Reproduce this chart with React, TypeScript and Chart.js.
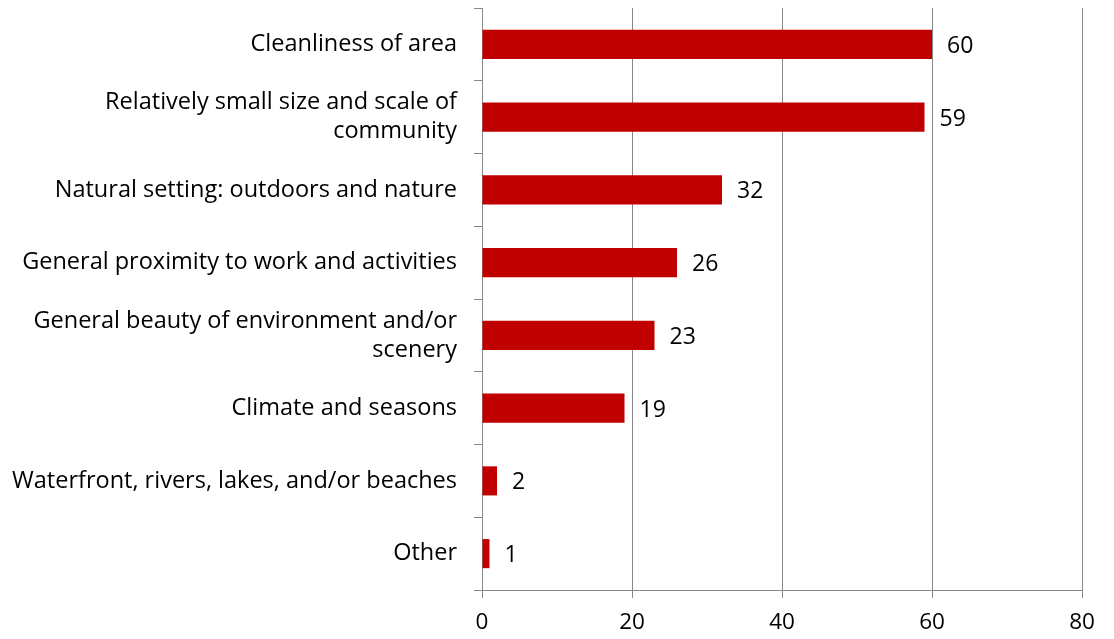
import React, { useEffect, useRef } from "react";
import { Chart, registerables } from "chart.js";

Chart.register(...registerables);

const categories: (string | string[])[] = [
  "Cleanliness of area",
  ["Relatively small size and scale of", "community"],
  "Natural setting: outdoors and nature",
  "General proximity to work and activities",
  ["General beauty of environment and/or", "scenery"],
  "Climate and seasons",
  "Waterfront, rivers, lakes, and/or beaches",
  "Other",
];
const values = [60, 59, 32, 26, 23, 19, 2, 1];
const xTicks = [0, 20, 40, 60, 80];

const FONT = "'Open Sans', sans-serif";
const GRID = "#868686";
const BAR = "#C00000";

const valueLabels = {
  id: "valueLabels",
  afterDatasetsDraw(chart: any) {
    const ctx = chart.ctx;
    const meta = chart.getDatasetMeta(0);
    ctx.save();
    ctx.font = `23px ${FONT}`;
    ctx.fillStyle = "#000";
    ctx.textAlign = "left";
    ctx.textBaseline = "middle";
    meta.data.forEach((bar: any, i: number) => {
      ctx.fillText(String(values[i]), bar.x + 15, bar.y + 2);
    });
    ctx.restore();
  },
};

export default function App() {
  const ref = useRef<HTMLCanvasElement | null>(null);
  useEffect(() => {
    document.body.style.margin = "0";
    const chart = new Chart(ref.current!, {
      type: "bar",
      data: {
        labels: categories,
        datasets: [
          {
            data: values,
            backgroundColor: BAR,
            barPercentage: 0.4,
            categoryPercentage: 1,
          },
        ],
      },
      options: {
        indexAxis: "y",
        animation: false,
        responsive: false,
        maintainAspectRatio: false,
        layout: { padding: { top: 8, right: 32, bottom: 0, left: 0 } },
        plugins: { legend: { display: false }, tooltip: { enabled: false } },
        scales: {
          x: {
            min: 0,
            max: 80,
            afterBuildTicks: (scale: any) => {
              scale.ticks = xTicks.map((v) => ({ value: v }));
            },
            afterFit: (scale: any) => {
              scale.height = 49;
            },
            grid: { color: GRID, lineWidth: 1, tickLength: 8, drawTicks: true },
            border: { color: GRID, width: 1 },
            ticks: {
              color: "#000",
              font: { family: FONT, size: 22.5, lineHeight: 1.2 },
              padding: 11,
              maxRotation: 0,
            },
          },
          y: {
            afterFit: (scale: any) => {
              scale.width = 482;
              scale.paddingTop = 0;
              scale.paddingBottom = 0;
            },
            grid: {
              drawOnChartArea: false,
              drawTicks: true,
              tickLength: 8,
              color: GRID,
              offset: true,
            },
            border: { color: GRID, width: 1 },
            ticks: {
              color: "#000",
              font: { family: FONT, size: 23.5, lineHeight: 1.23 },
              padding: 17,
            },
          },
        },
      },
      plugins: [valueLabels],
    });
    return () => chart.destroy();
  }, []);
  return <canvas ref={ref} width={1114} height={639} style={{ display: "block" }} />;
}
